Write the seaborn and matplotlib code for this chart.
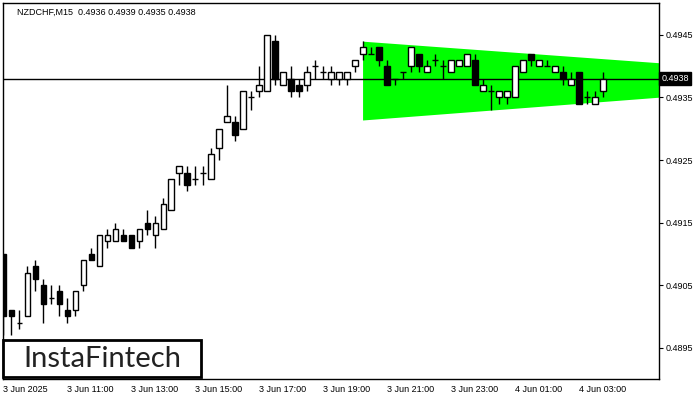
import numpy as np
import pandas as pd
import matplotlib
matplotlib.use("Agg")
import matplotlib.pyplot as plt
import matplotlib.transforms as mtransforms
import seaborn as sns

# -----------------------------
# Data (NZDCHF, M15)
# -----------------------------
opens = [0.4910, 0.4901, 0.4899, 0.4900, 0.4908, 0.4905, 0.4903, 0.4904, 0.4901, 0.4901,
         0.4905, 0.4910, 0.4908, 0.4912, 0.4912, 0.4913, 0.4913, 0.4912, 0.4915, 0.4913,
         0.4914, 0.4917, 0.4923, 0.4923, 0.4922, 0.4923, 0.4922, 0.4927, 0.4931, 0.4931,
         0.4930, 0.4935, 0.4936, 0.4936, 0.4944, 0.4937, 0.4938, 0.4937, 0.4937, 0.4940,
         0.4939, 0.4938, 0.4938, 0.4938, 0.4940, 0.4942, 0.4942, 0.4943, 0.4940, 0.4938,
         0.4939, 0.4940, 0.4942, 0.4939, 0.4941, 0.4940, 0.4939, 0.4940, 0.4940, 0.4941,
         0.4936, 0.4936, 0.4935, 0.4935, 0.4935, 0.4939, 0.4942, 0.4940, 0.4940, 0.4939,
         0.4939, 0.4937, 0.4939, 0.4935, 0.4934, 0.4936]
highs = [0.4910, 0.4901, 0.4901, 0.4908, 0.4909, 0.4906, 0.4905, 0.4905, 0.4903, 0.4904,
         0.4909, 0.4911, 0.4913, 0.4914, 0.4915, 0.4914, 0.4913, 0.4914, 0.4917, 0.4916,
         0.4919, 0.4922, 0.4924, 0.4924, 0.4924, 0.4924, 0.4927, 0.4930, 0.4937, 0.4932,
         0.4936, 0.4936, 0.4940, 0.4945, 0.4945, 0.4939, 0.4940, 0.4938, 0.4940, 0.4941,
         0.4940, 0.4940, 0.4939, 0.4939, 0.4941, 0.4944, 0.4943, 0.4943, 0.4941, 0.4938,
         0.4939, 0.4943, 0.4942, 0.4941, 0.4942, 0.4941, 0.4941, 0.4941, 0.4942, 0.4942,
         0.4938, 0.4937, 0.4936, 0.4936, 0.4940, 0.4941, 0.4942, 0.4941, 0.4941, 0.4940,
         0.4940, 0.4939, 0.4939, 0.4936, 0.4936, 0.4939]
lows = [0.4897, 0.4897, 0.4898, 0.4900, 0.4904, 0.4899, 0.4902, 0.4900, 0.4899, 0.4900,
        0.4904, 0.4909, 0.4908, 0.4911, 0.4912, 0.4912, 0.4911, 0.4911, 0.4913, 0.4911,
        0.4914, 0.4917, 0.4921, 0.4920, 0.4921, 0.4921, 0.4922, 0.4925, 0.4931, 0.4928,
        0.4930, 0.4933, 0.4935, 0.4936, 0.4937, 0.4937, 0.4935, 0.4935, 0.4936, 0.4938,
        0.4938, 0.4937, 0.4937, 0.4937, 0.4939, 0.4941, 0.4942, 0.4940, 0.4937, 0.4937,
        0.4938, 0.4939, 0.4939, 0.4939, 0.4940, 0.4938, 0.4939, 0.4940, 0.4940, 0.4937,
        0.4936, 0.4933, 0.4934, 0.4934, 0.4935, 0.4939, 0.4940, 0.4940, 0.4940, 0.4939,
        0.4937, 0.4937, 0.4934, 0.4934, 0.4934, 0.4935]
closes = [0.4900, 0.4900, 0.4899, 0.4907, 0.4906, 0.4902, 0.4903, 0.4902, 0.4900, 0.4904,
          0.4909, 0.4909, 0.4913, 0.4913, 0.4914, 0.4912, 0.4911, 0.4914, 0.4914, 0.4915,
          0.4918, 0.4922, 0.4924, 0.4921, 0.4922, 0.4923, 0.4926, 0.4930, 0.4932, 0.4929,
          0.4936, 0.4935, 0.4937, 0.4945, 0.4938, 0.4939, 0.4936, 0.4936, 0.4939, 0.4940,
          0.4939, 0.4939, 0.4939, 0.4939, 0.4941, 0.4943, 0.4942, 0.4941, 0.4937, 0.4938,
          0.4939, 0.4943, 0.4940, 0.4940, 0.4941, 0.4940, 0.4941, 0.4941, 0.4942, 0.4937,
          0.4937, 0.4936, 0.4936, 0.4936, 0.4940, 0.4941, 0.4941, 0.4941, 0.4940, 0.4940,
          0.4938, 0.4938, 0.4934, 0.4935, 0.4935, 0.4938]

current_price = 0.4938
title_text = "NZDCHF,M15  0.4936 0.4939 0.4935 0.4938"

# bullish pennant / triangle zone (candle index, price)
zone_x = [44.9, 82.5]
zone_top = [0.49440, 0.49405]
zone_bottom = [0.49314, 0.49351]

x_tick_pos = [0, 8, 16, 24, 32, 40, 48, 56, 64, 72]
x_tick_labels = ["3 Jun 2025", "3 Jun 11:00", "3 Jun 13:00", "3 Jun 15:00", "3 Jun 17:00",
                 "3 Jun 19:00", "3 Jun 21:00", "3 Jun 23:00", "4 Jun 01:00", "4 Jun 03:00"]
y_ticks = [0.4895, 0.4905, 0.4915, 0.4925, 0.4935, 0.4945]

df = pd.DataFrame({"open": opens, "high": highs, "low": lows, "close": closes})
df["idx"] = np.arange(len(df))

# -----------------------------
# Plot
# -----------------------------
sns.set_style("white")
plt.rcParams["font.family"] = ["Liberation Sans", "DejaVu Sans"]

fig = plt.figure(figsize=(7, 4), dpi=100)
ax = fig.add_axes([3 / 700, 21 / 400, 656 / 700, 376 / 400])

# green zone
zx = np.array(zone_x)
ax.fill_between(zx, zone_bottom, zone_top, color="#00ff00", lw=0, zorder=1)

# current price line
ax.axhline(current_price, color="black", lw=1, zorder=2)

# wicks
ax.vlines(df["idx"], df["low"], df["high"], color="black", lw=1, zorder=3)

# bodies
w = 0.72
bull = df[df["close"] > df["open"]]
bear = df[df["close"] < df["open"]]
doji = df[df["close"] == df["open"]]
ax.bar(bull["idx"], bull["close"] - bull["open"], bottom=bull["open"], width=w,
       color="white", edgecolor="black", lw=1, zorder=4)
ax.bar(bear["idx"], bear["open"] - bear["close"], bottom=bear["close"], width=w,
       color="black", edgecolor="black", lw=1, zorder=4)
ax.hlines(doji["open"], doji["idx"] - w / 2, doji["idx"] + w / 2, color="black", lw=1, zorder=4)

ax.set_xlim(-0.05, 81.96)
ax.set_ylim(0.48900, 0.49501)

ax.yaxis.tick_right()
ax.set_yticks(y_ticks)
ax.set_yticklabels([f"{v:.4f}" for v in y_ticks])
ax.set_xticks(x_tick_pos)
ax.set_xticklabels(x_tick_labels, ha="left")
ax.tick_params(axis="both", direction="out", length=3, width=0.8, labelsize=6.5,
               colors="black", pad=2)
ax.tick_params(axis="x", pad=1)
ax.tick_params(axis="y", right=True, left=False)

for s in ax.spines.values():
    s.set_color("black")
    s.set_linewidth(1)

# title inside chart
ax.text(14 / 656, 1 - 9 / 376, title_text, transform=ax.transAxes, fontsize=6.5,
        ha="left", va="center", color="black")

# current price tag on the right axis
trans = mtransforms.blended_transform_factory(ax.transAxes, ax.transData)
ax.text(1.004, current_price, "0.4938", transform=trans, fontsize=6.5, color="white",
        ha="left", va="center",
        bbox=dict(boxstyle="square,pad=0.25", fc="black", ec="black"), clip_on=False, zorder=10)

# logo box
fig.patches.append(plt.Rectangle((3 / 700, 23 / 400), 198 / 700, 37 / 400, transform=fig.transFigure,
                                 fc="white", ec="black", lw=2, zorder=20))
fig.text(102 / 700, 41 / 400, "InstaFintech", fontsize=21, family=["Lato", "DejaVu Sans"],
         color="#222222", ha="center", va="center", zorder=21)

plt.savefig("out.png", dpi=100)
